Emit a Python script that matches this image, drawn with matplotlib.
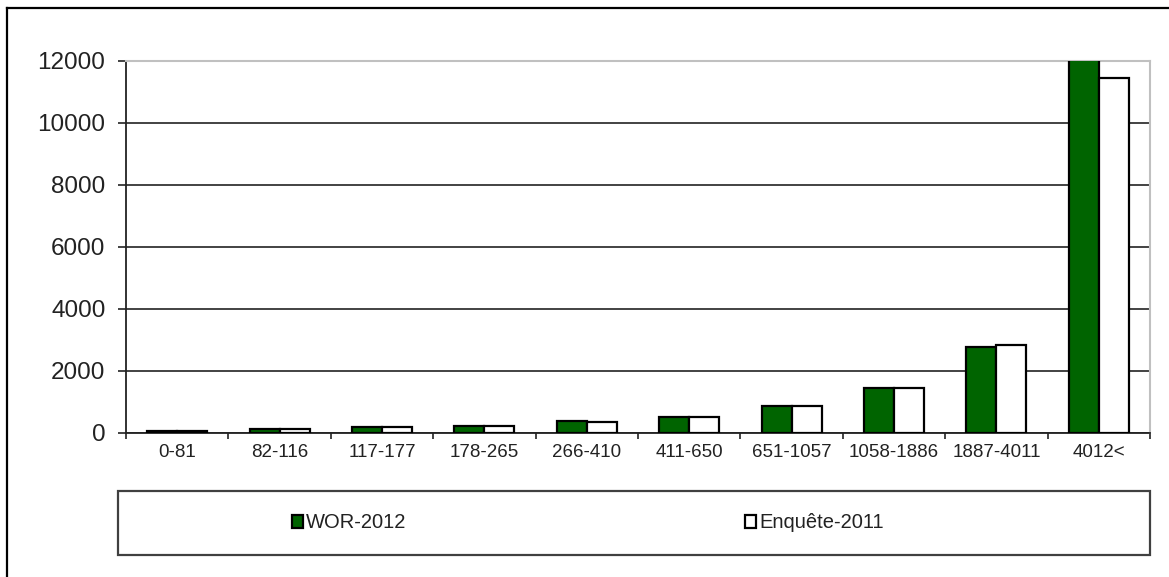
import numpy as np
import matplotlib.pyplot as plt
from matplotlib.patches import Rectangle
from matplotlib.lines import Line2D

plt.rcParams['font.family'] = ['Liberation Sans', 'DejaVu Sans']

# Datos
clases = ['0-81', '82-116', '117-177', '178-265', '266-410', '411-650',
          '651-1057', '1058-1886', '1887-4011', '4012<']
wor_2012 = [60, 120, 190, 240, 380, 530, 880, 1460, 2770, 12500]
enquete_2011 = [60, 120, 180, 230, 370, 520, 880, 1460, 2830, 11450]

fig = plt.figure(figsize=(11.69, 5.77), dpi=100)
ax = fig.add_axes([0.1078, 0.2496, 0.8760, 0.6447])

x = np.arange(len(clases))
ancho = 0.293
b1 = ax.bar(x - ancho / 2, wor_2012, ancho, color='#006400', edgecolor='black',
            linewidth=1.6, label='WOR-2012', zorder=3)
b2 = ax.bar(x + ancho / 2, enquete_2011, ancho, color='white', edgecolor='black',
            linewidth=1.6, label='Enquête-2011', zorder=3)

ax.set_xlim(-0.5, len(clases) - 0.5)
ax.set_ylim(0, 12000)
ax.set_yticks(np.arange(0, 12001, 2000))
ax.yaxis.grid(True, color='#222222', linewidth=1.2, zorder=0)
ax.set_axisbelow(True)

# marcas del eje x entre categorias, etiquetas en el centro
ax.set_xticks(np.arange(-0.5, len(clases), 1.0))
ax.set_xticklabels([])
ax.set_xticks(x, minor=True)
ax.set_xticklabels(clases, minor=True)
ax.tick_params(axis='x', which='major', direction='out', length=4.5, width=1.2, color='#222222')
ax.tick_params(axis='x', which='minor', length=0, pad=8, labelsize=13.5, labelcolor='#222222')
ax.tick_params(axis='y', direction='out', length=5.8, width=1.2, color='#222222',
               pad=9, labelsize=17.5, labelcolor='#222222')

for lado in ['left', 'bottom']:
    ax.spines[lado].set_color('#222222')
    ax.spines[lado].set_linewidth(1.3)
for lado in ['top', 'right']:
    ax.spines[lado].set_color('#c0c0c0')
    ax.spines[lado].set_linewidth(1.5)

# marco de la leyenda
fig.add_artist(Rectangle((0.1009, 0.0381), 0.8828, 0.1109, transform=fig.transFigure,
                         fill=False, edgecolor='#404040', linewidth=1.6))
fig.legend(handles=[b1, b2], loc='center left', bbox_to_anchor=(0.250, 0.0936),
           frameon=False, ncol=2, borderpad=0, borderaxespad=0,
           handlelength=0.55, handleheight=0.6, handletextpad=0.15,
           columnspacing=16.8, fontsize=14.5, labelcolor='#222222')

# borde exterior
fig.add_artist(Line2D([0.006, 1.0], [0.986, 0.986], transform=fig.transFigure,
                      color='black', linewidth=1.6))
fig.add_artist(Line2D([0.006, 0.006], [0.0, 0.986], transform=fig.transFigure,
                      color='black', linewidth=1.6))

fig.savefig('out.png', dpi=100)
